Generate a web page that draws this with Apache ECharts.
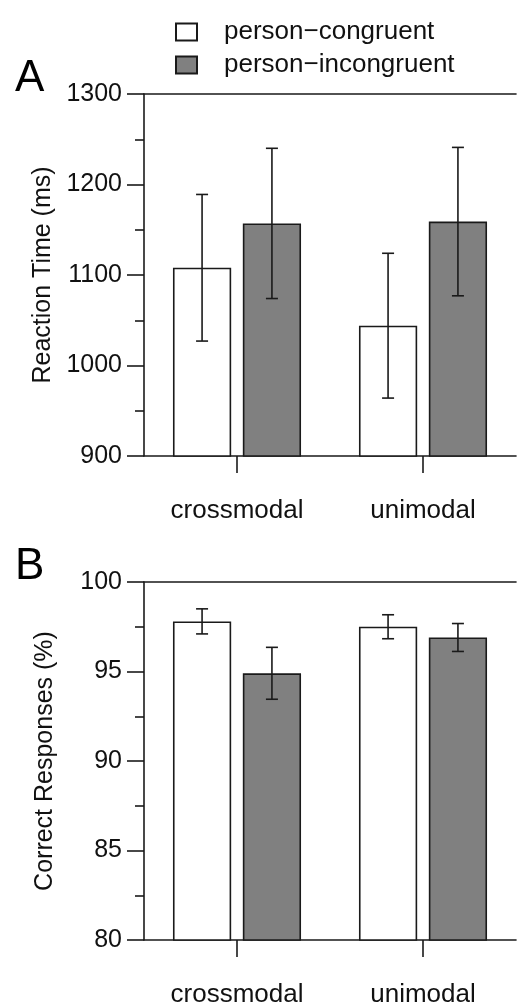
<!DOCTYPE html>
<html>
<head>
<meta charset="utf-8">
<script src="https://cdn.jsdelivr.net/npm/echarts@6/dist/echarts.min.js"></script>
<style>
  html, body { margin: 0; padding: 0; background: #ffffff; }
  #chart { width: 521px; height: 1008px; }
</style>
</head>
<body>
<div id="chart"></div>
<script>
// ---- data ----
const categories = ['crossmodal', 'unimodal'];
const seriesNames = ['person\u2212congruent', 'person\u2212incongruent'];

// Panel A: Reaction Time (ms)
const rtCongruent = [1108, 1044];
const rtCongruentErr = [81, 80];
const rtIncongruent = [1157, 1159];
const rtIncongruentErr = [83, 82];
const rtTicks = { min: 900, max: 1300, interval: 100 };

// Panel B: Correct Responses (%)
const accCongruent = [97.8, 97.5];
const accCongruentErr = [0.7, 0.67];
const accIncongruent = [94.9, 96.9];
const accIncongruentErr = [1.45, 0.78];
const accTicks = { min: 80, max: 100, interval: 5 };

// ---- styles ----
const FONT = 'Liberation Sans, Arial, Helvetica, sans-serif';
const INK = '#1a1a1a';
const BAR_FRAC = 0.313;   // bar width as fraction of category band
const BAR_GAP = 0.2;      // gap between the two bars as fraction of bar width
const FILLS = ['#ffffff', '#808080'];

function errData(vals, errs) {
  return vals.map((v, i) => [i, v, errs[i]]);
}

function errRender(sign) {
  return function (params, api) {
    const x = api.value(0), v = api.value(1), e = api.value(2);
    const band = api.size([1, 0])[0];
    const barW = band * BAR_FRAC;
    const off = sign * barW * (1 + BAR_GAP) / 2;
    const hi = api.coord([x, v + e]);
    const lo = api.coord([x, v - e]);
    const cx = hi[0] + off;
    const cap = 6;
    const style = { stroke: INK, lineWidth: 1.6 };
    return {
      type: 'group',
      children: [
        { type: 'line', shape: { x1: cx, y1: hi[1], x2: cx, y2: lo[1] }, style },
        { type: 'line', shape: { x1: cx - cap, y1: hi[1], x2: cx + cap, y2: hi[1] }, style },
        { type: 'line', shape: { x1: cx - cap, y1: lo[1], x2: cx + cap, y2: lo[1] }, style }
      ]
    };
  };
}

const grids = [
  { left: 144, right: 5, top: 94, height: 362 },
  { left: 144, right: 5, top: 582, height: 361 }
];

function catAxis(gi) {
  return {
    type: 'category', gridIndex: gi, data: categories,
    boundaryGap: true,
    axisLine: { show: true, lineStyle: { color: INK, width: 1.6 } },
    axisTick: { show: true, alignWithLabel: true, length: 17, inside: false, lineStyle: { color: INK, width: 1.6 } },
    axisLabel: { color: '#111', fontFamily: FONT, fontSize: 26, margin: 42 }
  };
}
function topAxis(gi) {
  return {
    type: 'category', gridIndex: gi, data: categories, position: 'top',
    axisLine: { show: true, lineStyle: { color: INK, width: 1.6 } },
    axisTick: { show: false }, axisLabel: { show: false }
  };
}
function valAxis(gi, t, name) {
  return {
    type: 'value', gridIndex: gi, min: t.min, max: t.max, interval: t.interval,
    name: name, nameLocation: 'middle', nameGap: 86,
    nameTextStyle: { color: '#111', fontFamily: FONT, fontSize: 25 },
    axisLine: { show: true, lineStyle: { color: INK, width: 1.6 } },
    axisTick: { show: true, length: 17, lineStyle: { color: INK, width: 1.6 } },
    minorTick: { show: true, splitNumber: 2, length: 9, lineStyle: { color: INK, width: 1.6 } },
    splitLine: { show: false },
    axisLabel: { color: '#111', fontFamily: FONT, fontSize: 25, margin: 22, formatter: v => String(v) }
  };
}

function barSeries(name, data, ai, fi) {
  return {
    name: name, type: 'bar', xAxisIndex: ai, yAxisIndex: ai, data: data,
    barWidth: (BAR_FRAC * 100) + '%', barGap: (BAR_GAP * 100) + '%',
    itemStyle: { color: FILLS[fi], borderColor: INK, borderWidth: 1.6 },
    emphasis: { disabled: true }
  };
}
function errSeries(data, ai, sign) {
  return {
    type: 'custom', xAxisIndex: ai, yAxisIndex: ai, z: 5,
    data: data, renderItem: errRender(sign), silent: true
  };
}

const option = {
  animation: false,
  backgroundColor: '#ffffff',
  grid: grids,
  title: [
    { text: 'A', left: 10, top: 52, textStyle: { fontFamily: FONT, fontSize: 44, fontWeight: 'normal', color: '#000' } },
    { text: 'B', left: 10, top: 540, textStyle: { fontFamily: FONT, fontSize: 44, fontWeight: 'normal', color: '#000' } }
  ],
  legend: {
    orient: 'vertical', left: 170, top: 14,
    data: seriesNames,
    icon: 'rect', itemWidth: 21, itemHeight: 17, itemGap: 7,
    selectedMode: false,
    textStyle: { fontFamily: FONT, fontSize: 26, color: '#111', lineHeight: 26, padding: [0, 0, 0, 22] }
  },
  xAxis: [catAxis(0), catAxis(1), topAxis(0), topAxis(1)],
  yAxis: [
    valAxis(0, rtTicks, 'Reaction Time (ms)'),
    valAxis(1, accTicks, 'Correct Responses (%)')
  ],
  series: [
    barSeries(seriesNames[0], rtCongruent, 0, 0),
    barSeries(seriesNames[1], rtIncongruent, 0, 1),
    barSeries(seriesNames[0], accCongruent, 1, 0),
    barSeries(seriesNames[1], accIncongruent, 1, 1),
    errSeries(errData(rtCongruent, rtCongruentErr), 0, -1),
    errSeries(errData(rtIncongruent, rtIncongruentErr), 0, 1),
    errSeries(errData(accCongruent, accCongruentErr), 1, -1),
    errSeries(errData(accIncongruent, accIncongruentErr), 1, 1)
  ]
};

const chart = echarts.init(document.getElementById('chart'), null, { renderer: 'canvas' });
chart.setOption(option);
</script>
</body>
</html>
